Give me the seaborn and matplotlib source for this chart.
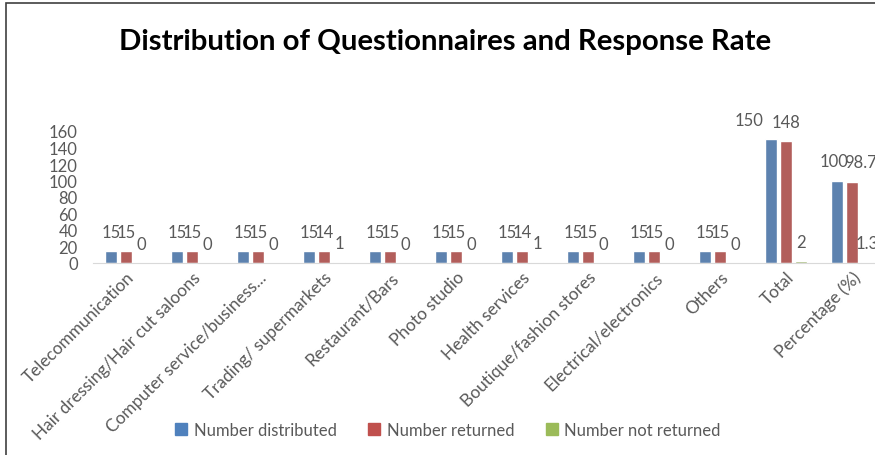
import pandas as pd
import matplotlib.pyplot as plt
import matplotlib.patches as mpatches
import seaborn as sns

# ====== DATA ======
categories = [
    "Telecommunication", "Hair dressing/Hair cut saloons", "Computer service/business...",
    "Trading/ supermarkets", "Restaurant/Bars", "Photo studio", "Health services",
    "Boutique/fashion stores", "Electrical/electronics", "Others", "Total", "Percentage (%)",
]
distributed = [15, 15, 15, 15, 15, 15, 15, 15, 15, 15, 150, 100]
returned = [15, 15, 15, 14, 15, 15, 14, 15, 15, 15, 148, 98.7]
not_returned = [0, 0, 0, 1, 0, 0, 1, 0, 0, 0, 2, 1.3]
series = ["Number distributed", "Number returned", "Number not returned"]
colors = ["#4F81BD", "#C0504D", "#9BBB59"]

df = pd.DataFrame({
    "category": categories * 3,
    "value": distributed + returned + not_returned,
    "series": [s for s in series for _ in categories],
})

sns.set_style("white")
plt.rcParams["font.family"] = ["Lato", "DejaVu Sans"]

W, H = 875, 456
fig = plt.figure(figsize=(W / 100, H / 100), dpi=100)
ax = fig.add_axes([93 / W, 1 - 264 / H, 792 / W, 132 / H])

sns.barplot(data=df, x="category", y="value", hue="series", hue_order=series,
            palette=colors, width=0.68, gap=0.2, ax=ax, legend=False)

label_sets = []
for cont in ax.containers:
    label_sets.append(ax.bar_label(cont, fmt="{:g}", padding=8, fontsize=12,
                                   color="#595959"))

# nudge a few labels like the reference (Excel moved them a bit)
label_sets[0][10].xyann = (-16, 8)
label_sets[0][11].xyann = (-2, 8)
label_sets[1][11].xyann = (6, 8)

ax.set_ylim(0, 160)
ax.set_xlim(-0.5, len(categories) - 0.5)
ax.set_yticks(range(0, 161, 20))
ax.set_xlabel("")
ax.set_ylabel("")
ax.tick_params(axis="y", labelsize=12, labelcolor="#595959", length=0, pad=11)
ax.tick_params(axis="x", labelsize=12.4, labelcolor="#595959", length=0, pad=4)
ax.set_xticks(range(len(categories)))
ax.set_xticklabels(categories, rotation=45, ha="right", rotation_mode="anchor")
for s in ["top", "right", "left"]:
    ax.spines[s].set_visible(False)
ax.spines["bottom"].set_color("#D9D9D9")

fig.text(0.509, 1 - 42 / H, "Distribution of Questionnaires and Response Rate",
         ha="center", va="center", fontsize=21.2, fontweight="bold", color="black")

handles = [mpatches.Patch(color=c, label=s) for c, s in zip(colors, series)]
fig.legend(handles=handles, loc="center", bbox_to_anchor=(0.512, 1 - 431 / H), ncol=3,
           frameon=False, fontsize=12, handlelength=0.7, handleheight=0.7,
           handletextpad=0.4, columnspacing=1.9, labelcolor="#595959")

# outer chart frame (right and bottom cut off in the reference)
fig.patches.append(mpatches.Rectangle((6 / W, -0.1), 1.2, 1.1 - 4 / H, transform=fig.transFigure,
                                      fill=False, edgecolor="#404040", lw=1.2))

fig.savefig("out.png", dpi=100)
